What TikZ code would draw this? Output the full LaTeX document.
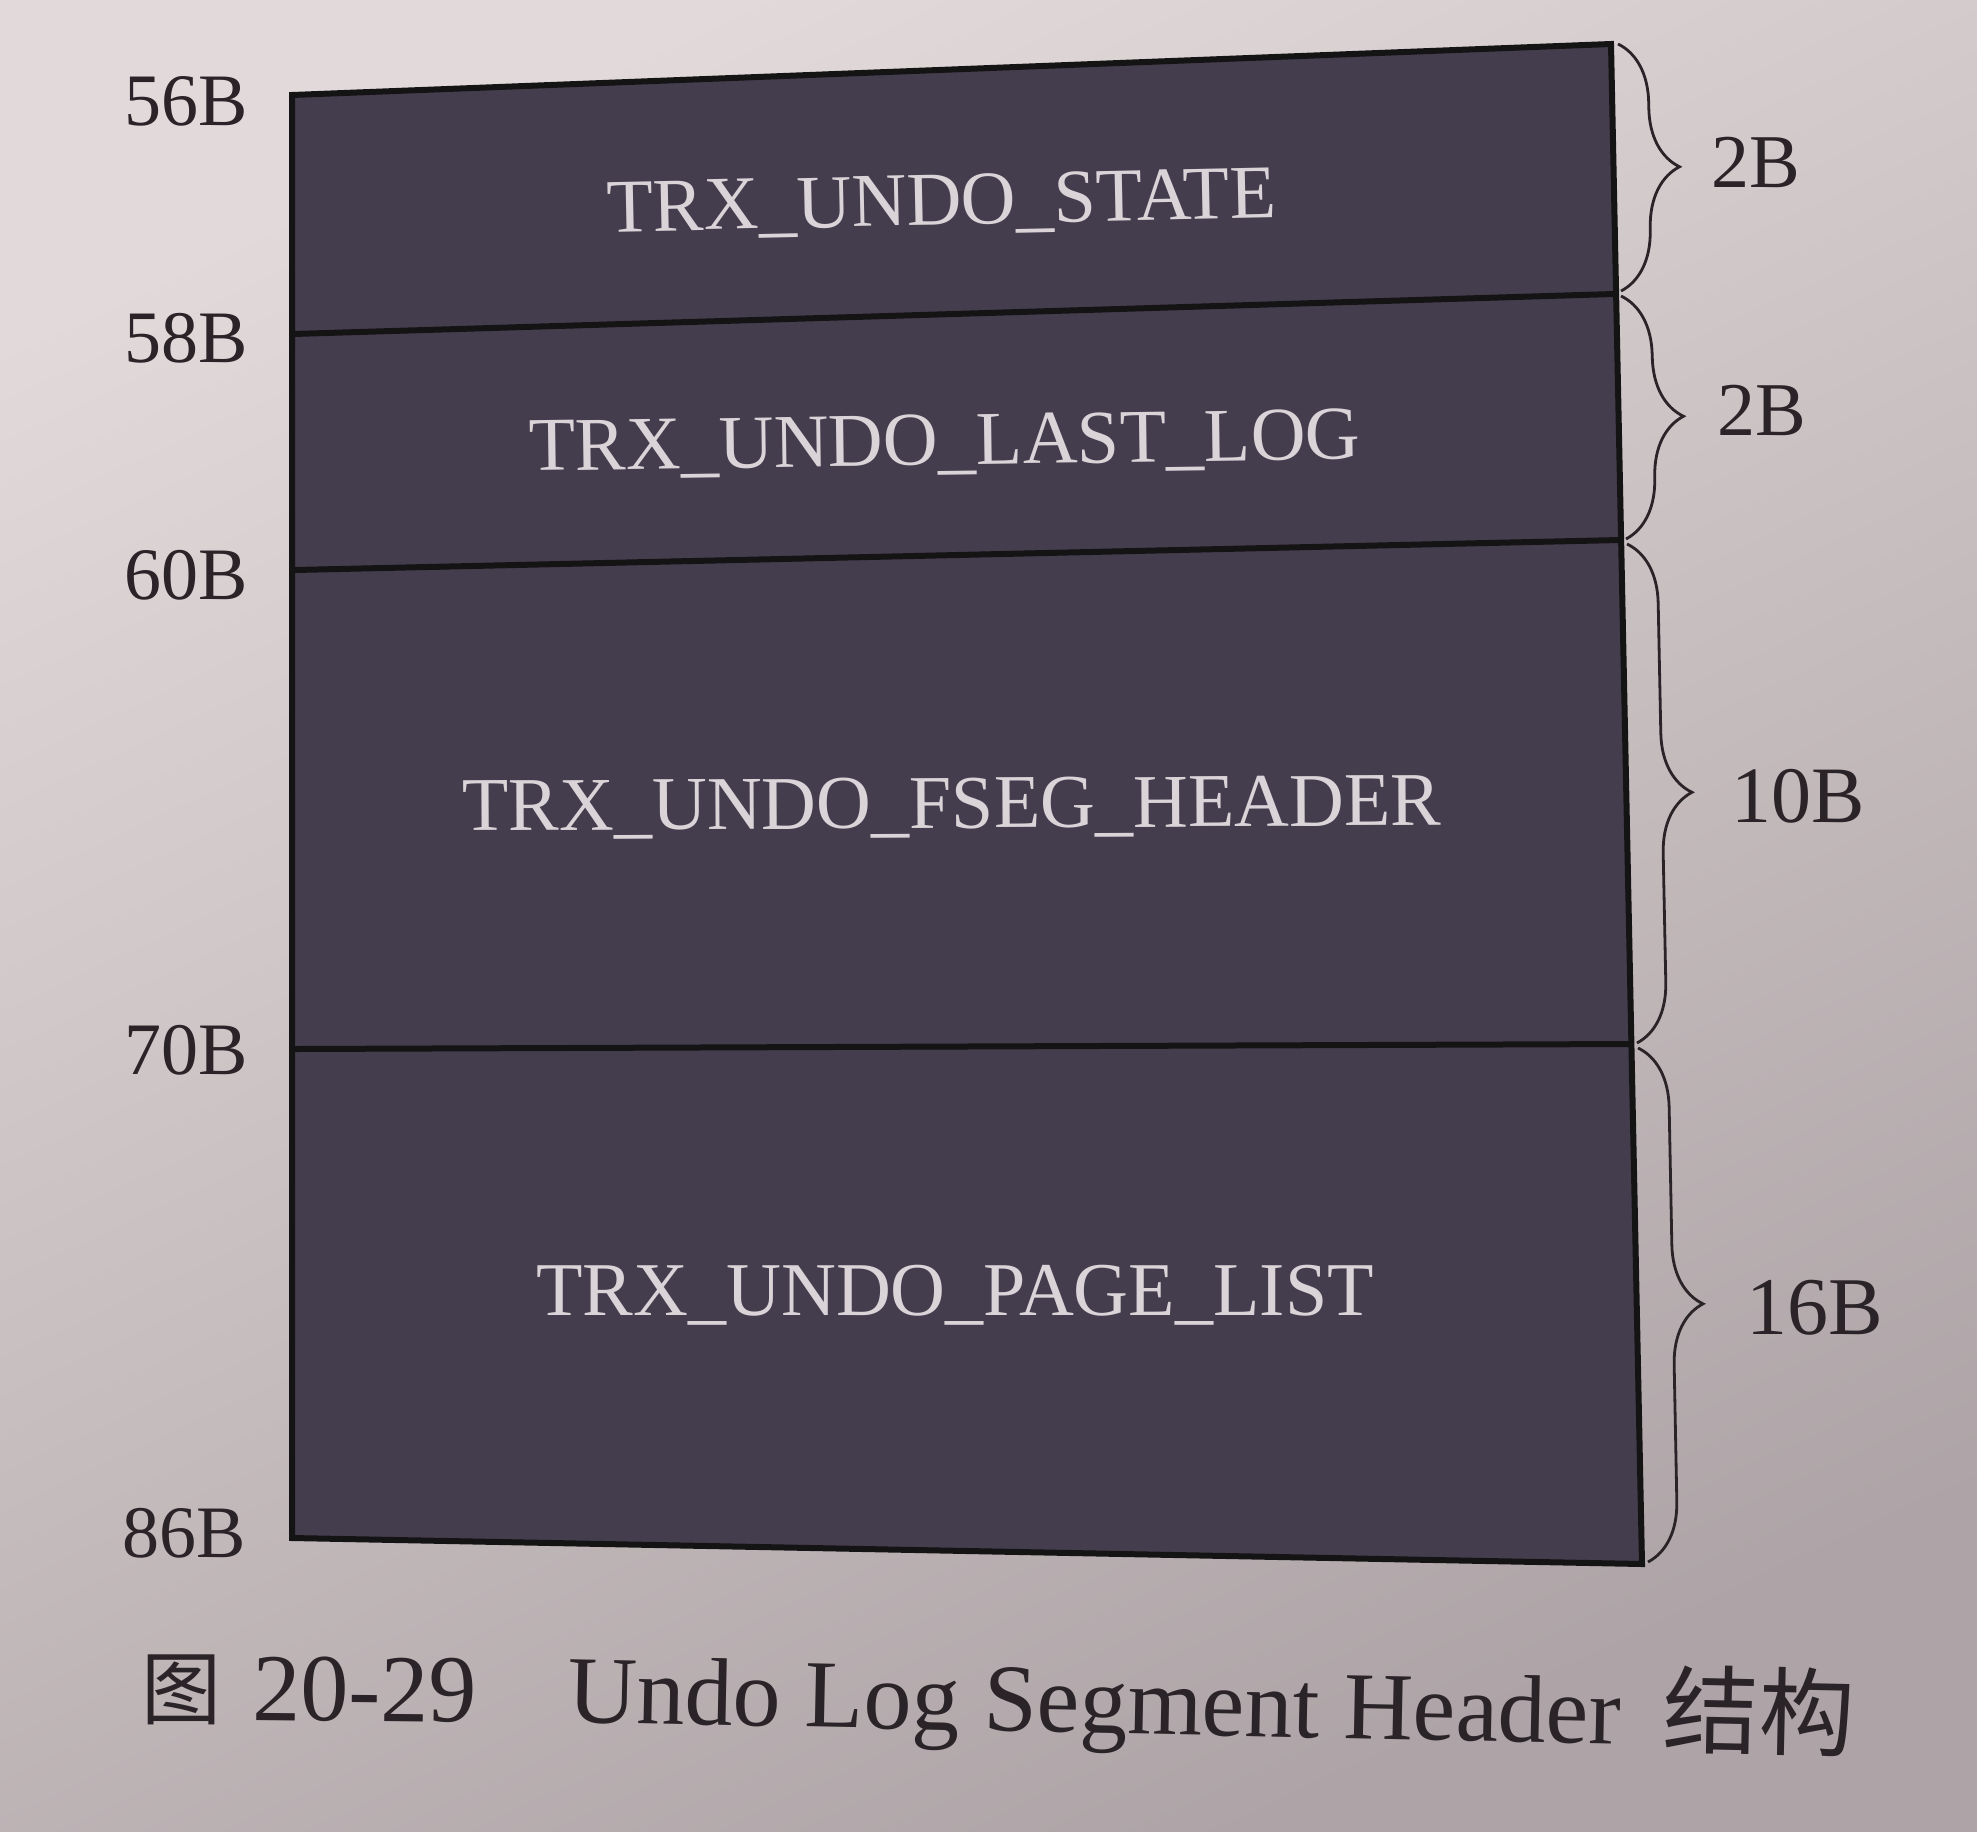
\documentclass[tikz,border=0pt]{standalone}
\usepackage{fontspec}
\setmainfont{Liberation Serif}
\newfontfamily\cjk{Noto Sans CJK SC}
\usetikzlibrary{decorations.pathreplacing}

\definecolor{paperA}{RGB}{226,218,218}
\definecolor{paperB}{RGB}{174,164,167}
\definecolor{cellfill}{RGB}{68,61,78}
\definecolor{celltext}{RGB}{218,212,216}
\definecolor{ink}{RGB}{42,35,39}

\begin{document}
\begin{tikzpicture}[x=0.5pt,y=-0.5pt,
  field/.style={text=celltext, font=\fontsize{38}{40}\selectfont, anchor=base, inner sep=0pt},
  offset/.style={text=ink, font=\fontsize{37}{40}\selectfont, anchor=base east, inner sep=0pt},
  size/.style={text=ink, font=\fontsize{38}{40}\selectfont, anchor=base west, inner sep=0pt},
  bracket/.style={draw=ink, line width=1.4pt, decorate, decoration={brace, amplitude=30pt}},
  rule/.style={draw=black!92, line width=3pt},
  caption/.style={text=ink, anchor=base west, inner sep=0pt}]

% paper
\shade[top color=paperA, bottom color=paperB, shading angle=25]
  (0,0) rectangle (1977,1832);
\useasboundingbox (0,0) rectangle (1977,1832);

% corners of the header block and its field boundaries
\coordinate (TL) at (292,95);   \coordinate (TR) at (1611,44);
\coordinate (AL) at (293,334);  \coordinate (AR) at (1614,294);
\coordinate (BL) at (295,570);  \coordinate (BR) at (1620,540);
\coordinate (CL) at (295,1049); \coordinate (CR) at (1633,1044);
\coordinate (DL) at (292,1538); \coordinate (DR) at (1642,1564);

\fill[cellfill] (TL) -- (TR) -- (DR) -- (DL) -- cycle;
\draw[rule] (AL) -- (AR);
\draw[rule] (BL) -- (BR);
\draw[rule] (CL) -- (CR);
\draw[rule, line join=miter] (TL) -- (TR) -- (DR) -- (DL) -- cycle;

% field names
\node[field, rotate=1.2] (fstate) at (942,225) {TRX\_UNDO\_STATE};
\node[field, rotate=0.8] (flast)  at (945,465) {TRX\_UNDO\_LAST\_LOG};
\node[field, rotate=0.3] (ffseg)  at (952,828) {TRX\_UNDO\_FSEG\_HEADER};
\node[field]             (fpage)  at (955,1315) {TRX\_UNDO\_PAGE\_LIST};

% byte offsets
\node[offset] (o56) at (248,125)  {56B};
\node[offset] (o58) at (248,362)  {58B};
\node[offset] (o60) at (248,599)  {60B};
\node[offset] (o70) at (248,1074) {70B};
\node[offset] (o86) at (246,1557) {86B};

% size braces
\coordinate (b1t) at (1618,44);  \coordinate (b1b) at (1621,291);
\coordinate (b2t) at (1621,296); \coordinate (b2b) at (1626,539);
\coordinate (b3t) at (1627,544); \coordinate (b3b) at (1637,1043);
\coordinate (b4t) at (1638,1048);\coordinate (b4b) at (1648,1562);
\draw[bracket] (b1t) -- (b1b);
\draw[bracket] (b2t) -- (b2b);
\draw[bracket] (b3t) -- (b3b);
\draw[bracket] (b4t) -- (b4b);

\node[size] (s1) at (1711,187)  {2B};
\node[size] (s2) at (1717,435)  {2B};
\node[size, font=\fontsize{40}{42}\selectfont] (s3) at (1731,822)  {10B};
\node[size, font=\fontsize{41}{43}\selectfont] (s4) at (1746,1334) {16B};

% caption
\node[caption, font=\cjk\fontsize{40}{42}\selectfont] (c1) at (141,1718) {图};
\node[caption, font=\fontsize{48}{50}\selectfont, rotate=-0.6] (c2) at (252,1720) {20-29};
\node[caption, font=\fontsize{48}{50}\selectfont, rotate=-1.2] (c3) at (567,1722) {Undo Log Segment Header};
\node[caption, font=\cjk\fontsize{48}{50}\selectfont, rotate=-1.2] (c4) at (1662,1745) {结构};
\end{tikzpicture}
\end{document}
